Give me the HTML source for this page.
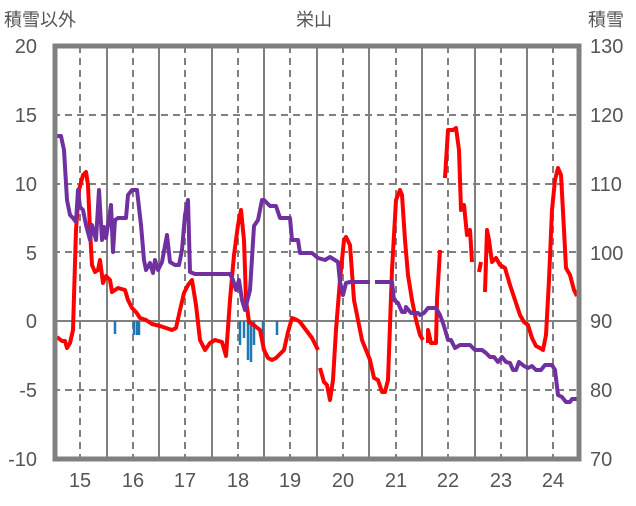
<!DOCTYPE html>
<html><head><meta charset="utf-8"><style>
body{margin:0;background:#fff;}
text{font-family:"Liberation Sans","Noto Sans CJK JP",sans-serif;fill:#555;}
</style></head><body>
<svg width="636" height="501" viewBox="0 0 636 501" xmlns="http://www.w3.org/2000/svg">
<g font-size="18">
<text x="4" y="26">積雪以外</text>
<text x="296" y="26">栄山</text>
<text x="588" y="26">積雪</text>
</g>
<g font-size="20" text-anchor="end">
<text x="37" y="53">20</text><text x="37" y="122">15</text><text x="37" y="191">10</text>
<text x="37" y="260">5</text><text x="37" y="328">0</text><text x="37" y="397">-5</text><text x="37" y="466">-10</text>
</g>
<g font-size="20">
<text x="590" y="53">130</text><text x="590" y="122">120</text><text x="590" y="191">110</text>
<text x="590" y="260">100</text><text x="590" y="328">90</text><text x="590" y="397">80</text><text x="590" y="466">70</text>
</g>
<g font-size="20" text-anchor="middle">
<text x="80" y="487">15</text><text x="133" y="487">16</text><text x="185" y="487">17</text><text x="238" y="487">18</text><text x="290" y="487">19</text><text x="343" y="487">20</text><text x="396" y="487">21</text><text x="448" y="487">22</text><text x="501" y="487">23</text><text x="553" y="487">24</text>
</g>
<g stroke="#808080" stroke-width="2" fill="none">
<g stroke-dasharray="7,5">
<line x1="53" y1="115" x2="580" y2="115"/><line x1="53" y1="184" x2="580" y2="184"/><line x1="53" y1="252" x2="580" y2="252"/><line x1="53" y1="390" x2="580" y2="390"/>
<line x1="80" y1="46" x2="80" y2="459"/><line x1="133" y1="46" x2="133" y2="459"/><line x1="185" y1="46" x2="185" y2="459"/><line x1="238" y1="46" x2="238" y2="459"/><line x1="290" y1="46" x2="290" y2="459"/><line x1="343" y1="46" x2="343" y2="459"/><line x1="396" y1="46" x2="396" y2="459"/><line x1="448" y1="46" x2="448" y2="459"/><line x1="501" y1="46" x2="501" y2="459"/><line x1="553" y1="46" x2="553" y2="459"/>
</g>
<line x1="53" y1="321" x2="580" y2="321"/>
<line x1="107" y1="46" x2="107" y2="459"/><line x1="159" y1="46" x2="159" y2="459"/><line x1="212" y1="46" x2="212" y2="459"/><line x1="264" y1="46" x2="264" y2="459"/><line x1="317" y1="46" x2="317" y2="459"/><line x1="369" y1="46" x2="369" y2="459"/><line x1="422" y1="46" x2="422" y2="459"/><line x1="475" y1="46" x2="475" y2="459"/><line x1="527" y1="46" x2="527" y2="459"/>
</g>
<g stroke="#1f77b4" stroke-width="2.5">
<line x1="115" y1="321" x2="115" y2="334"/><line x1="134" y1="321" x2="134" y2="335"/><line x1="137" y1="321" x2="137" y2="335"/><line x1="139" y1="321" x2="139" y2="335"/>
<line x1="240" y1="321" x2="240" y2="345"/><line x1="244" y1="321" x2="244" y2="338"/><line x1="248" y1="321" x2="248" y2="360"/><line x1="251" y1="321" x2="251" y2="362"/><line x1="254" y1="321" x2="254" y2="345"/><line x1="263" y1="321" x2="263" y2="350"/><line x1="277" y1="321" x2="277" y2="335"/>
</g>
<g fill="none" stroke="#ff0000" stroke-width="4" stroke-linejoin="round">
<polyline points="57,337 62,341 65,341 67,348 70,343 73,330 76,230 79,190 83,175 86,172 88,185 90,230 92,265 95,272 98,270 100,260 103,283 106,276 110,280 112,292 115,290 118,288 125,290 128,300 132,308 136,312 140,318 146,320 152,324 160,326 166,328 172,330 176,328 180,310 184,293 188,285 192,280 196,305 200,340 205,350 210,343 215,340 222,342 226,356 230,300 234,255 238,225 241,210 244,240 246,300 249,322 255,326 260,330 264,350 268,358 272,360 276,358 280,354 284,350 288,332 292,318 297,320 300,322 306,330 312,338 318,350"/>
<polyline points="320,368 324,382 327,385 330,400 333,380 336,330 340,280 344,240 346,237 350,245 354,300 358,320 362,340 366,350 370,360 374,378 378,380 382,392 385,392 388,380 392,270 396,200 400,190 402,195 405,240 408,275 412,300 416,320 420,335 423,340"/>
<polyline points="428,343 428,330 431,343 436,343 437,300 440,250"/>
<polyline points="445,178 448,130 453,130 456,128 459,150 461,210 464,205 467,235 470,230 472,262"/>
<polyline points="479,272 481,262"/>
<polyline points="485,292 487,230 489,240 492,262 496,258 500,265 505,268 510,285 515,300 520,315 524,322 528,325 532,338 536,346 540,348 543,350 546,335 549,280 552,210 555,180 558,168 561,175 564,230 566,268 570,275 574,290 577,296"/>
</g>
<g fill="none" stroke="#7030a0" stroke-width="4" stroke-linejoin="round">
<polyline points="57,136 61,136 64,150 67,200 70,215 73,218 76,222 78,190 80,207 83,210 86,225 90,240 92,225 96,240 99,190 102,240 104,227 106,238 108,225 111,205 113,252 115,220 118,218 126,218 128,195 132,190 137,190 141,225 144,260 146,270 150,263 153,273 155,260 158,270 162,262 167,235 170,262 175,265 179,265 182,250 185,215 188,200 190,272 195,274 230,274 233,280 236,290 239,280 242,300 245,310 250,290 254,226 258,220 262,200 264,200 270,206 276,206 280,218 290,218 292,240 298,240 300,253 312,253 318,258 325,260 330,257 338,262 340,282 343,295 346,283 350,282 370,282"/>
<polyline points="375,282 392,282 394,300 398,303 402,312 405,312 406,307 411,313 418,313 420,315 424,313 428,308 436,308 440,315 444,326 448,340 451,340 455,348 460,345 470,345 475,350 482,350 486,353 490,357 494,357 498,362 502,357 506,362 510,363 513,370 516,370 519,362 524,366 528,368 532,366 536,370 541,370 545,365 552,365 555,370 558,395 562,397 566,402 570,402 572,399 578,399"/>
</g>
<rect x="55" y="46" width="524" height="413" fill="none" stroke="#808080" stroke-width="5"/>
</svg>
</body></html>
